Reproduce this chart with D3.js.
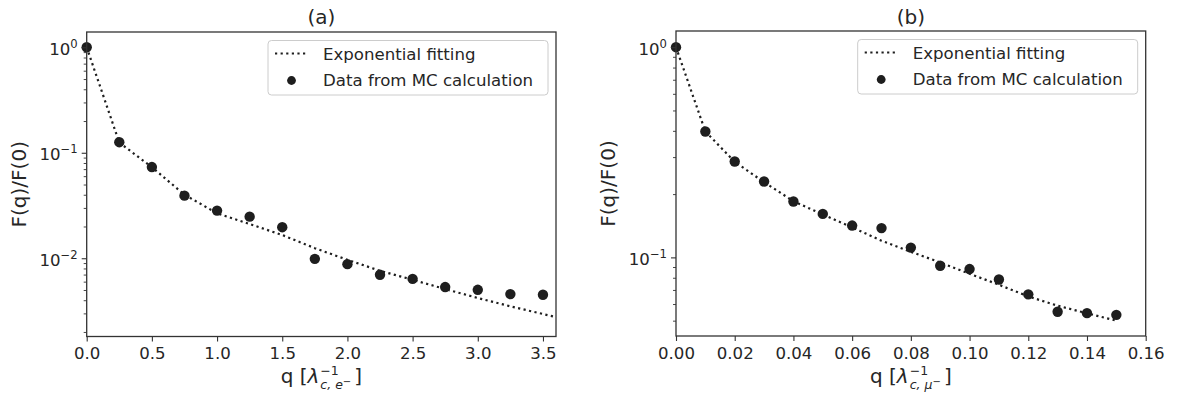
<!DOCTYPE html>
<html>
<head>
<meta charset="utf-8">
<script src="https://cdn.jsdelivr.net/npm/d3@7"></script>
<style>
  html, body { margin: 0; padding: 0; background: #fff; }
  svg { display: block; font-family: "DejaVu Sans", sans-serif; }
</style>
</head>
<body>
<div id="chart"></div>
<script>
// panel (a): electron
const qA = [0, 0.25, 0.5, 0.75, 1.0, 1.25, 1.5, 1.75, 2.0, 2.25, 2.5, 2.75, 3.0, 3.25, 3.5];
const mcA = [1.0, 0.126, 0.0732, 0.0392, 0.0283, 0.0248, 0.0197, 0.00987, 0.00879, 0.00697, 0.00638, 0.00533, 0.00502, 0.00457, 0.00451];
const qFitA = [0, 0.25, 0.5, 0.75, 1.0, 1.25, 1.5, 1.75, 2.0, 2.25, 2.5, 2.75, 3.0, 3.25, 3.5, 3.75];
const fitA = [1.0, 0.125, 0.073, 0.040, 0.0267, 0.0211, 0.0166, 0.01246, 0.00966, 0.0076, 0.00625, 0.0051, 0.0042, 0.0035, 0.00296, 0.0025];

// panel (b): muon
const qB = [0, 0.01, 0.02, 0.03, 0.04, 0.05, 0.06, 0.07, 0.08, 0.09, 0.10, 0.11, 0.12, 0.13, 0.14, 0.15];
const mcB = [1.0, 0.397, 0.286, 0.2296, 0.1845, 0.161, 0.1417, 0.1378, 0.1113, 0.0912, 0.0880, 0.0785, 0.0667, 0.0551, 0.0543, 0.0533];
const fitB = [1.0, 0.397, 0.285, 0.228, 0.185, 0.160, 0.139, 0.120, 0.1063, 0.0946, 0.0836, 0.0741, 0.0652, 0.0589, 0.0542, 0.0500];

// ticks
const xTicksA = [0, 0.5, 1.0, 1.5, 2.0, 2.5, 3.0, 3.5];
const xLabelsA = ["0.0", "0.5", "1.0", "1.5", "2.0", "2.5", "3.0", "3.5"];
const xTicksB = [0, 0.02, 0.04, 0.06, 0.08, 0.10, 0.12, 0.14, 0.16];
const xLabelsB = ["0.00", "0.02", "0.04", "0.06", "0.08", "0.10", "0.12", "0.14", "0.16"];
const yExpA = [0, -1, -2];
const yExpB = [0, -1];

const legendLabels = ["Exponential fitting", "Data from MC calculation"];

const width = 1177, height = 398;
const ink = "#1e1e1e";
const textColor = "#262626";
const tickFont = 16.6, labelFont = 20;

const svg = d3.select("#chart").append("svg")
  .attr("width", width)
  .attr("height", height)
  .attr("viewBox", [0, 0, width, height]);

svg.append("rect").attr("width", width).attr("height", height).attr("fill", "#fff");

function panel(o) {
  const { left, right, top, bottom } = o;
  const x = d3.scaleLinear().domain(o.xDomain).range([left, right]);
  const y = d3.scaleLog().domain(o.yDomain).range([bottom, top]);
  const g = svg.append("g");

  const clipId = "clip-" + o.id;
  g.append("clipPath").attr("id", clipId)
    .append("rect").attr("x", left).attr("y", top)
    .attr("width", right - left).attr("height", bottom - top);

  // fit line
  const line = d3.line().x(d => x(d[0])).y(d => y(d[1]));
  g.append("path")
    .attr("clip-path", `url(#${clipId})`)
    .attr("d", line(d3.zip(o.qFit, o.fit)))
    .attr("fill", "none")
    .attr("stroke", ink)
    .attr("stroke-width", 2.2)
    .attr("stroke-dasharray", "2.2 3.4");

  // MC points
  g.append("g").selectAll("circle")
    .data(d3.zip(o.q, o.mc))
    .join("circle")
      .attr("cx", d => x(d[0]))
      .attr("cy", d => y(d[1]))
      .attr("r", 5.2)
      .attr("fill", ink);

  // x axis
  g.append("g")
    .attr("transform", `translate(0,${bottom})`)
    .call(d3.axisBottom(x).tickValues(o.xTicks)
      .tickFormat((d, i) => o.xLabels[i]).tickSize(5).tickPadding(6).tickSizeOuter(0))
    .call(a => a.select(".domain").remove())
    .call(a => a.selectAll("line").attr("stroke", "#333").attr("stroke-width", 1.1))
    .call(a => a.selectAll("text").attr("fill", textColor)
      .attr("font-size", tickFont).attr("font-family", "DejaVu Sans"));

  // y axis: major and minor log ticks
  const major = o.yExp.map(e => Math.pow(10, e));
  const minor = y.ticks().filter(v => Math.abs(Math.log10(v) - Math.round(Math.log10(v))) > 1e-6);
  g.append("g")
    .attr("transform", `translate(${left},0)`)
    .call(d3.axisLeft(y).tickValues(major).tickFormat("").tickSize(5).tickSizeOuter(0))
    .call(a => a.select(".domain").remove())
    .call(a => a.selectAll("line").attr("stroke", "#333").attr("stroke-width", 1.1));
  g.append("g")
    .attr("transform", `translate(${left},0)`)
    .call(d3.axisLeft(y).tickValues(minor).tickFormat("").tickSize(3).tickSizeOuter(0))
    .call(a => a.select(".domain").remove())
    .call(a => a.selectAll("line").attr("stroke", "#333").attr("stroke-width", 0.9));

  o.yExp.forEach(e => {
    const t = g.append("text")
      .attr("x", left - 9)
      .attr("y", y(Math.pow(10, e)) + 7.7)
      .attr("text-anchor", "end")
      .attr("fill", textColor)
      .attr("font-size", tickFont);
    t.append("tspan").text("10");
    t.append("tspan").attr("font-size", 11.6).attr("dy", -7)
      .text(e === 0 ? "0" : "\u2212" + Math.abs(e));
  });

  // spines
  g.append("rect")
    .attr("x", left).attr("y", top)
    .attr("width", right - left).attr("height", bottom - top)
    .attr("fill", "none").attr("stroke", "#333").attr("stroke-width", 1.3);

  // title
  g.append("text")
    .attr("x", (left + right) / 2).attr("y", 24)
    .attr("text-anchor", "middle").attr("fill", textColor)
    .attr("font-size", labelFont).text(o.title);

  // y label
  g.append("text")
    .attr("transform", `translate(${left - 61},${(top + bottom) / 2}) rotate(-90)`)
    .attr("text-anchor", "middle").attr("fill", textColor)
    .attr("font-size", labelFont).text("F(q)/F(0)");

  // x label with math: q [λ^{-1}_{c,sub^-}]
  const xl = g.append("g");
  let cx = 0;
  function piece(str, size, dy, italic) {
    const t = xl.append("text").attr("x", cx).attr("y", dy)
      .attr("font-size", size).attr("fill", textColor)
      .attr("font-style", italic ? "italic" : "normal").text(str);
    return t.node().getComputedTextLength();
  }
  cx += piece("q [", labelFont, 0, false);
  cx += piece("\u03bb", labelFont, 0, true) + 1;
  const supStart = cx;
  const supW = piece("\u2212" + "1", 12.5, -8, false);
  let subW = piece("c, " + o.subVar, 12.5, 6.5, true);
  cx = supStart + subW;
  subW += piece("\u2212", 10, 2, false);
  cx = supStart + Math.max(supW, subW) + 3;
  cx += piece("]", labelFont, 0, false);
  xl.attr("transform", `translate(${(left + right) / 2 - cx / 2},382.5)`);

  // legend
  const lg = g.append("g").attr("transform", `translate(${right - 8 - 280},${top + 8.5})`);
  lg.append("rect")
    .attr("width", 280).attr("height", 54.5).attr("rx", 3.5)
    .attr("fill", "#fff").attr("fill-opacity", 0.8)
    .attr("stroke", "#cccccc").attr("stroke-width", 1);
  lg.append("line")
    .attr("x1", 7).attr("x2", 40).attr("y1", 13).attr("y2", 13)
    .attr("stroke", ink).attr("stroke-width", 2.2).attr("stroke-dasharray", "2.2 3.4");
  lg.append("circle").attr("cx", 23.5).attr("cy", 40).attr("r", 4.4).attr("fill", ink);
  legendLabels.forEach((s, i) => {
    lg.append("text")
      .attr("x", 55).attr("y", 19.5 + i * 26)
      .attr("fill", textColor).attr("font-size", tickFont).text(s);
  });
}

panel({
  id: "a", title: "(a)", subVar: "e",
  left: 86.7, right: 556, top: 32, bottom: 336.5,
  xDomain: [0, 3.6], yDomain: [Math.pow(10, -2.742), Math.pow(10, 0.145)],
  q: qA, mc: mcA, qFit: qFitA, fit: fitA,
  xTicks: xTicksA, xLabels: xLabelsA, yExp: yExpA
});

panel({
  id: "b", title: "(b)", subVar: "\u03bc",
  left: 676, right: 1145.7, top: 31, bottom: 336,
  xDomain: [0, 0.16], yDomain: [Math.pow(10, -1.374), Math.pow(10, 0.077)],
  q: qB, mc: mcB, qFit: qB, fit: fitB,
  xTicks: xTicksB, xLabels: xLabelsB, yExp: yExpB
});
</script>
</body>
</html>
